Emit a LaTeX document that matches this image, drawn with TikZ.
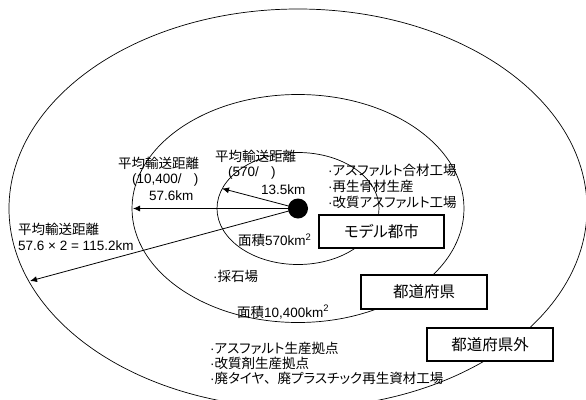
\documentclass[tikz,border=0pt]{standalone}
\usepackage{fontspec}
\setmainfont{Liberation Sans}
\newfontfamily\cjk[RawFeature=+palt]{Noto Sans CJK JP}
\newfontfamily\cjkfw{Noto Sans CJK JP}
\usetikzlibrary{arrows.meta}
\tikzset{
  ring/.style={draw=black, line width=0.7pt},
  lbl/.style={inner sep=0pt, anchor=west, font=\fontsize{13.5}{16}\selectfont},
  areabox/.style={draw=black, line width=1.9pt, fill=white, inner sep=0pt,
    minimum width=125pt, minimum height=33pt, font=\cjk\fontsize{15.5}{18}\selectfont},
  arr/.style={draw=black, line width=0.8pt, -{Latex[length=7pt,width=6pt]}},
}
\begin{document}
\begin{tikzpicture}[x=1pt,y=-1pt]
\useasboundingbox (0,0) rectangle (586,399);
\clip (0,0) rectangle (586,399);
% rings
\draw[ring] (298,208.5) ellipse [x radius=289pt, y radius=199.5pt];
\draw[ring] (298,208.5) ellipse [x radius=166pt, y radius=114pt];
\draw[ring] (298,208.5) ellipse [x radius=81pt, y radius=56pt];
% arrow ends
\coordinate (e1) at (222,188.5);
\coordinate (e2) at (133,208.5);
\coordinate (e3) at (30,281);
\node[circle, fill=black, inner sep=0pt, minimum size=20pt] (dot) at (298,208.5) {};
\draw[arr] (dot.center) -- (e1);
\draw[arr] (dot.center) -- (e2);
\draw[arr] (dot.center) -- (e3);
% labels
\node[lbl] (t1a) at (215,156) {\cjk 平均輸送距離};
\node[lbl] (t1b) at (228,173) {(570/\hspace{0.9em})};
\node[lbl] (t1c) at (261,190) {13.5km};
\node[lbl] (t2a) at (118,163) {\cjk 平均輸送距離};
\node[lbl] (t2b) at (132,180) {(10,400/\hspace{0.9em})};
\node[lbl] (t2c) at (149,196) {57.6km};
\node[lbl] (t3a) at (18,229) {\cjk 平均輸送距離};
\node[lbl] (t3b) at (18,246) {57.6 × 2 = 115.2km};
\node[lbl] (a1) at (238,240) {{\cjk 面積}570km\textsuperscript{2}};
\node[lbl] (a2) at (237,312) {{\cjk 面積}10,400km\textsuperscript{2}};
\node[lbl] (s1) at (213,276) {·{\cjk 採石場}};
\node[lbl] (r1) at (328,170) {·{\cjk アスファルト合材工場}};
\node[lbl] (r2) at (328,186.5) {·{\cjk 再生骨材生産}};
\node[lbl] (r3) at (328,202.5) {·{\cjk 改質アスファルト工場}};
\node[lbl] (b1) at (210,348) {·{\cjk アスファルト生産拠点}};
\node[lbl] (b2) at (210,363) {·{\cjk 改質剤生産拠点}};
\node[lbl] (b3) at (210,378) {·{\cjk 廃タイヤ{\cjkfw 、}廃プラスチック再生資材工場}};
% boxes
\node[areabox] (city) at (381.5,231.5) {モデル都市};
\node[areabox, minimum width=126pt, minimum height=34pt] (pref) at (424,292) {都道府県};
\node[areabox, minimum width=126pt] (outp) at (490,344.5) {都道府県外};
\end{tikzpicture}
\end{document}
